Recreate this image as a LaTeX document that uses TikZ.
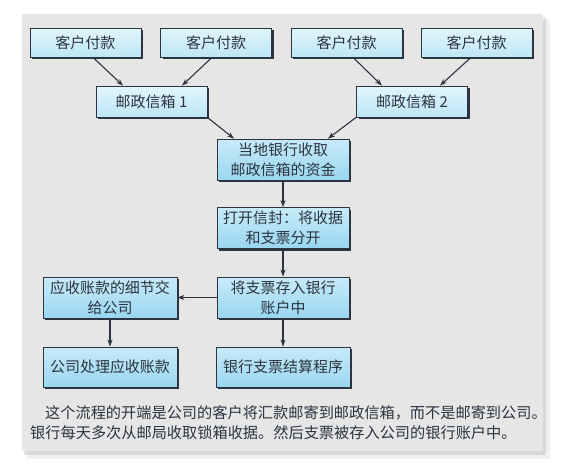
\documentclass[tikz,border=0pt]{standalone}
\usepackage{fontspec}
\newfontfamily\cjk{Noto Sans CJK SC}
\usetikzlibrary{arrows.meta,shadows}
\definecolor{panelgray}{HTML}{E6E6E6}
\definecolor{boxtop}{HTML}{C8EBF9}
\definecolor{boxbot}{HTML}{99D6F0}
\definecolor{lighttop}{HTML}{E2F5FC}
\definecolor{lightbot}{HTML}{BDE6F6}
\definecolor{inkgray}{HTML}{2B3440}
\tikzset{
  flowbox/.style={draw=inkgray, line width=0.8pt, top color=boxtop, bottom color=boxbot,
    text=inkgray, align=center, inner sep=0pt, font=\cjk\fontsize{15}{20}\selectfont,
    drop shadow={shadow xshift=2pt, shadow yshift=-2pt, fill=inkgray, opacity=1}},
  lightbox/.style={flowbox, top color=lighttop, bottom color=lightbot},
  flowarrow/.style={-{Stealth[length=7pt,width=5pt]}, line width=1.1pt, draw=inkgray}
}
\begin{document}
\begin{tikzpicture}[x=1pt,y=-1pt]
  \useasboundingbox (0,0) rectangle (566,475);
  % panel
  \fill[black, opacity=0.06] (27,20) rectangle (550,459);
  \fill[black, opacity=0.10] (24,17) rectangle (546,455);
  \fill[panelgray] (22,14) rectangle (543,451);
  % customers
  \node[lightbox, minimum width=111pt, minimum height=29pt] (cust1) at (85.5,42.5) {客户付款};
  \node[lightbox, minimum width=111pt, minimum height=29pt] (cust2) at (216,42.5) {客户付款};
  \node[lightbox, minimum width=111pt, minimum height=29pt] (cust3) at (346.5,42.5) {客户付款};
  \node[lightbox, minimum width=111pt, minimum height=29pt] (cust4) at (476.5,42.5) {客户付款};
  % lockboxes
  \node[lightbox, minimum width=111pt, minimum height=31pt] (box1) at (151.5,101.5) {邮政信箱 1};
  \node[lightbox, minimum width=111pt, minimum height=31pt] (box2) at (412,101.5) {邮政信箱 2};
  % main column
  \node[flowbox, minimum width=132pt, minimum height=41pt] (collect) at (283,159.5) {当地银行收取\\邮政信箱的资金};
  \node[flowbox, minimum width=132pt, minimum height=41pt] (open) at (283,228) {打开信封：将收据\\和支票分开};
  \node[flowbox, minimum width=132pt, minimum height=41pt] (deposit) at (283,297.5) {将支票存入银行\\账户中};
  \node[flowbox, minimum width=134pt, minimum height=40pt] (clearing) at (283,367) {银行支票结算程序};
  % left column
  \node[flowbox, minimum width=134pt, minimum height=41pt] (details) at (110,297.5) {应收账款的细节交\\给公司};
  \node[flowbox, minimum width=134pt, minimum height=40pt] (process) at (110,367) {公司处理应收账款};
  % arrows
  \draw[flowarrow] ([xshift=7.5pt]cust1.south) -- ([xshift=-28.5pt]box1.north);
  \draw[flowarrow] ([xshift=-4pt]cust2.south) -- ([xshift=30.5pt]box1.north);
  \draw[flowarrow] ([xshift=6.5pt]cust3.south) -- ([xshift=-30pt]box2.north);
  \draw[flowarrow] ([xshift=-5.5pt]cust4.south) -- ([xshift=28pt]box2.north);
  \draw[flowarrow] (box1.south east) -- ([xshift=-49pt]collect.north);
  \draw[flowarrow] (box2.south west) -- ([xshift=45pt]collect.north);
  \draw[flowarrow] (collect) -- (open);
  \draw[flowarrow] (open) -- (deposit);
  \draw[flowarrow] (deposit) -- (clearing);
  \draw[flowarrow] (deposit) -- (details);
  \draw[flowarrow] (details) -- (process);
  % caption
  \node[anchor=west, inner sep=0pt, text=inkgray, font=\cjk\fontsize{15.2}{20}\selectfont] (capA) at (45,413)
    {这个流程的开端是公司的客户将汇款邮寄到邮政信箱，而不是邮寄到公司。};
  \node[anchor=west, inner sep=0pt, text=inkgray, font=\cjk\fontsize{15.2}{20}\selectfont] (capB) at (30,433)
    {银行每天多次从邮局收取锁箱收据。然后支票被存入公司的银行账户中。};
\end{tikzpicture}
\end{document}
